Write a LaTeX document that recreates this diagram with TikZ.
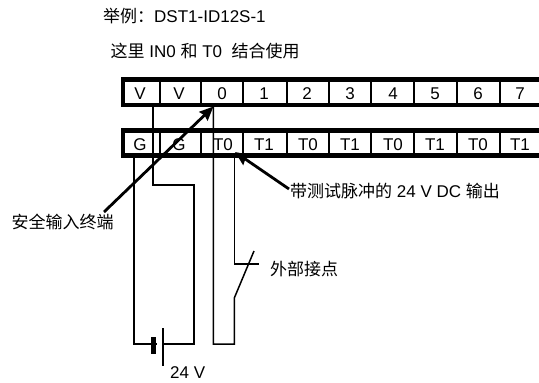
\documentclass[tikz,border=0pt]{standalone}
\usepackage{fontspec}
\setmainfont{Liberation Sans}
\newfontfamily\cjk{Noto Sans CJK SC}
\usetikzlibrary{arrows.meta}
\tikzset{
  bar/.style={line width=4.2pt,black},
  div/.style={line width=1.6pt,black},
  wire/.style={line width=1.5pt,black,line join=miter},
  pointer/.style={line width=2.8pt,black,-{Stealth[length=14pt,width=12pt,inset=1.5pt]}},
  lab/.style={inner sep=0pt,font=\fontsize{17}{20}\selectfont,anchor=base west},
  cell/.style={inner sep=0pt,font=\fontsize{17}{20}\selectfont,anchor=base}
}
\begin{document}
\begin{tikzpicture}[x=1pt,y=-1pt]
\useasboundingbox (0,0) rectangle (539,383);
% named points
\coordinate (vout) at (153,105);
\coordinate (vk1) at (153,185);
\coordinate (vk2) at (194,185);
\coordinate (vk3) at (194,344);
\coordinate (gout) at (134,156);
\coordinate (gk) at (134,344);
\coordinate (inz) at (213.3,105);
\coordinate (inzk) at (213.3,344);
\coordinate (swk) at (234.3,344);
\coordinate (swa) at (234.3,298);
\coordinate (swb) at (254,251);
\coordinate (tout) at (234.3,156);
\coordinate (tk) at (234.3,264);
\coordinate (tend) at (258.5,264);
\coordinate (bplate) at (163,344);
\coordinate (bneg) at (157,344);
% wires
\draw[wire] (vout) -- (vk1) -- (vk2) -- (vk3) -- (bplate);
\draw[wire] (gout) -- (gk) -- (bneg);
\draw[wire] (inz) -- (inzk) -- (swk) -- (swa) -- (swb);
\draw[wire] (tout) -- (tk) -- (tend);
% strips
\draw[bar] (539,79.5) -- (123,79.5) -- (123,104.7) -- (539,104.7);
\draw[bar] (539,130.5) -- (123,130.5) -- (123,155.5) -- (539,155.5);
\foreach \x in {160,201,243,287,329,371,414,457,500}{
  \draw[div] (\x,79.5) -- (\x,104.7);
  \draw[div] (\x,130.5) -- (\x,155.5);
}
\foreach \x/\t/\n in {140/V/va,179/V/vb,222/0/i0,264/1/i1,307/2/i2,350/3/i3,393/4/i4,435/5/i5,478/6/i6,520/7/i7}
  \node[cell] (\n) at (\x,99.5) {\t};
\foreach \x/\t/\n in {140/G/ga,179/G/gb,223/T0/ta,264/T1/tb,308/T0/tc,350/T1/td,393/T0/te,435/T1/tf,478/T0/tg,520/T1/th}
  \node[cell] (\n) at (\x,150) {\t};
% battery
\draw[wire] (163,328) -- (163,366);
\fill[black] (150.5,337) rectangle (156,354);
% texts
\node[lab] (t1) at (103,22) {{\cjk 举例\char"FF1A}DST1-ID12S-1};
\node[lab] (t2) at (110.5,57) {{\cjk 这里} IN0 {\cjk 和} T0\ \ {\cjk 结合使用}};
\node[lab] (t3) at (11.5,228) {\cjk 安全输入终端};
\node[lab] (t4) at (290,197) {{\cjk 带测试脉冲的} 24 V DC {\cjk 输出}};
\node[lab] (t5) at (270,275) {\cjk 外部接点};
\node[lab] (t6) at (170,378) {24 V};
% pointers
\coordinate (p1s) at (104,212);
\coordinate (p2s) at (289,189);
\coordinate (p1e) at (213.5,106.5);
\coordinate (p2e) at (235,152);
\draw[pointer] (p1s) -- (p1e);
\draw[pointer] (p2s) -- (p2e);
\end{tikzpicture}
\end{document}
